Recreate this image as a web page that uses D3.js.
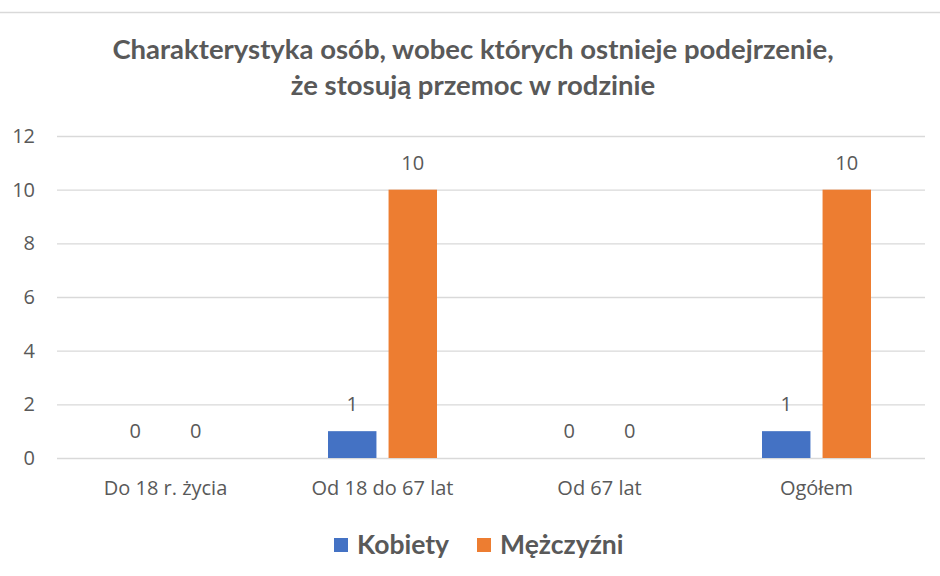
<!DOCTYPE html>
<html>
<head>
<meta charset="utf-8">
<script src="https://cdn.jsdelivr.net/npm/d3@7"></script>
<style>
  body { margin: 0; background: #fff; }
  text { font-family: Lato, "Open Sans", sans-serif; fill: #595959; }
</style>
</head>
<body>
<script>
// chart data
const categories = ["Do 18 r. życia", "Od 18 do 67 lat", "Od 67 lat", "Ogółem"];
const seriesNames = ["Kobiety", "Mężczyźni"];
const kobiety = [0, 1, 0, 1];
const mezczyzni = [0, 10, 0, 10];
const yTicks = [0, 2, 4, 6, 8, 10, 12];
const titleLines = ["Charakterystyka osób, wobec których ostnieje podejrzenie,", "że stosują przemoc w rodzinie"];

const colors = ["#4472C4", "#ED7D31"];

var svgWidth = 940;
var svgHeight = 576;

var svg = d3.select("body").append("svg")
  .attr("width", svgWidth)
  .attr("height", svgHeight);

// thin border line on top
svg.append("line")
  .attr("x1", 0).attr("x2", svgWidth)
  .attr("y1", 12.5).attr("y2", 12.5)
  .attr("stroke", "#d9d9d9")
  .attr("stroke-width", 1.5);

// title
svg.selectAll(".title")
  .data(titleLines)
  .enter()
  .append("text")
  .attr("class", "title")
  .attr("x", 473)
  .attr("y", (d, i) => 59 + i * 36)
  .attr("text-anchor", "middle")
  .style("font-weight", "bold")
  .style("font-size", "27.5px")
  .attr("fill", "#616161")
  .text(d => d);

var plotLeft = 57, plotRight = 925, plotTop = 136, plotBottom = 458;

var x0 = d3.scaleBand()
  .domain(categories)
  .range([plotLeft, plotRight]);

var x1 = d3.scaleBand()
  .domain(seriesNames)
  .range([0, 109])
  .paddingInner(0.2);

var y = d3.scaleLinear()
  .domain([0, 12])
  .range([plotBottom, plotTop]);

// grid lines + y labels
var yAxis = d3.axisLeft(y)
  .tickValues(yTicks)
  .tickSize(-(plotRight - plotLeft))
  .tickPadding(22);

var yG = svg.append("g")
  .attr("transform", `translate(${plotLeft},0)`)
  .call(yAxis);
yG.select(".domain").remove();
yG.selectAll(".tick line").attr("stroke", "#d9d9d9").attr("stroke-width", 1.3);
yG.selectAll(".tick text")
  .style("font-size", "20px")
  .style("font-family", "'Open Sans', sans-serif")
  .attr("fill", "#595959");

// x labels
var xAxis = d3.axisBottom(x0).tickSize(0).tickPadding(23);
var xG = svg.append("g")
  .attr("transform", `translate(0,${plotBottom})`)
  .call(xAxis);
xG.select(".domain").remove();
xG.selectAll(".tick text")
  .style("font-size", "20px")
  .style("font-family", "'Open Sans', sans-serif")
  .attr("fill", "#595959");

// bars
var rows = categories.map((c, i) => ({ cat: c, vals: [kobiety[i], mezczyzni[i]] }));
var offset = x0.bandwidth() / 2 - 54.5;

var groups = svg.selectAll(".grp")
  .data(rows)
  .enter()
  .append("g")
  .attr("class", "grp")
  .attr("transform", d => `translate(${x0(d.cat) + offset},0)`);

groups.selectAll("rect")
  .data(d => d.vals.map((v, j) => ({ name: seriesNames[j], v: v, j: j })))
  .enter()
  .append("rect")
  .attr("x", d => x1(d.name))
  .attr("width", x1.bandwidth())
  .attr("y", d => y(d.v))
  .attr("height", d => y(0) - y(d.v))
  .attr("fill", d => colors[d.j]);

groups.selectAll(".lbl")
  .data(d => d.vals.map((v, j) => ({ name: seriesNames[j], v: v, j: j })))
  .enter()
  .append("text")
  .attr("class", "lbl")
  .attr("x", d => x1(d.name) + x1.bandwidth() / 2)
  .attr("y", d => y(d.v) - 20)
  .attr("text-anchor", "middle")
  .style("font-size", "20px")
  .style("font-family", "'Open Sans', sans-serif")
  .text(d => d.v);

// legend
var legendX = [334, 477];
var leg = svg.selectAll(".leg")
  .data(seriesNames)
  .enter()
  .append("g")
  .attr("class", "leg")
  .attr("transform", (d, i) => `translate(${legendX[i]},538)`);

leg.append("rect")
  .attr("width", 14)
  .attr("height", 14)
  .attr("fill", (d, i) => colors[i]);

leg.append("text")
  .attr("x", 23)
  .attr("y", 16)
  .style("font-weight", "bold")
  .style("font-size", "26.5px")
  .text(d => d);
</script>
</body>
</html>
